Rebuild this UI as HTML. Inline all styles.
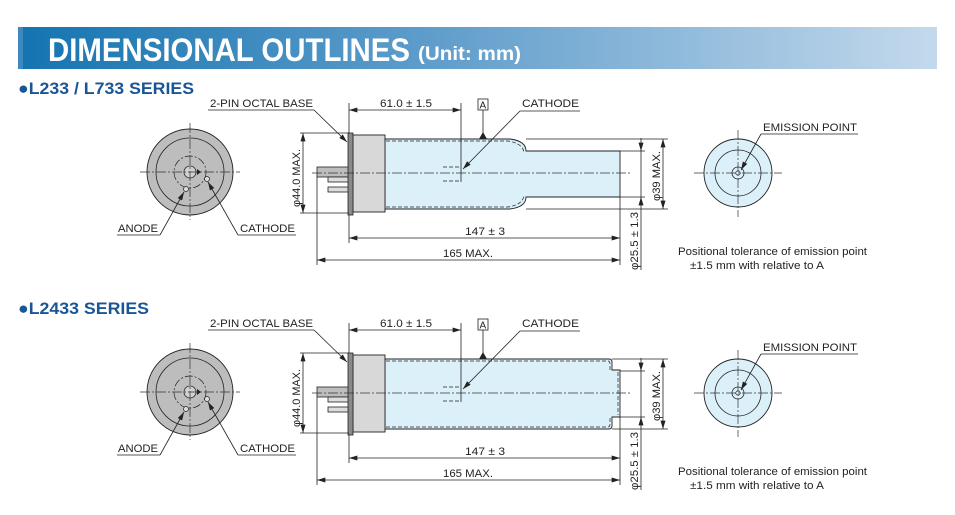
<!DOCTYPE html>
<html><head><meta charset="utf-8"><style>
html,body{margin:0;padding:0;background:#fff;}
svg{display:block;font-family:"Liberation Sans",Arial,sans-serif;}
.t{font-size:11px;fill:#222;}
.ln{stroke:#222;stroke-width:0.8;fill:none;}
.cl{stroke:#333;stroke-width:0.7;fill:none;stroke-dasharray:10 2 2 2;}
</style></head><body>
<svg width="955" height="515" viewBox="0 0 955 515" xmlns="http://www.w3.org/2000/svg">
<defs>
<linearGradient id="hg" x1="0" x2="1" y1="0" y2="0">
<stop offset="0" stop-color="#1474b0"/><stop offset="0.45" stop-color="#5f9dcb"/><stop offset="1" stop-color="#c4d9ec"/>
</linearGradient>
<marker id="ar" viewBox="0 0 10 6" refX="10" refY="3" markerWidth="9" markerHeight="5" orient="auto-start-reverse" markerUnits="userSpaceOnUse">
<path d="M0,0 L10,3 L0,6 z" fill="#222"/></marker>
</defs>
<rect x="18" y="27" width="919" height="42" fill="url(#hg)"/>
<rect x="18" y="27" width="5" height="42" fill="#3d88bf"/>
<text x="48" y="61" font-size="32" font-weight="bold" fill="#fff" textLength="362" lengthAdjust="spacingAndGlyphs">DIMENSIONAL OUTLINES</text>
<text x="418" y="60" font-size="19" font-weight="bold" fill="#fff" textLength="103" lengthAdjust="spacingAndGlyphs">(Unit: mm)</text>

<!-- SECTION 1 -->
<g>
<text x="18" y="94" font-size="17" font-weight="bold" fill="#1a5596" textLength="176" lengthAdjust="spacingAndGlyphs">●L233 / L733 SERIES</text>
<!-- end view left -->
<circle cx="190" cy="172" r="43" fill="#bdbdbd" stroke="#222" stroke-width="0.9"/>
<circle cx="190" cy="172" r="34" fill="none" stroke="#222" stroke-width="0.8"/>
<circle cx="190" cy="172" r="16" fill="none" stroke="#222" stroke-width="0.7" stroke-dasharray="8 2 2 2"/>
<circle cx="190" cy="172" r="6" fill="#d0d0d0" stroke="#222" stroke-width="0.8"/>
<line x1="140" y1="172" x2="240" y2="172" class="cl"/>
<line x1="190" y1="123" x2="190" y2="220" class="cl"/>
<path d="M197,169 L201,172 L197,175z" fill="#222"/>
<circle cx="186" cy="189" r="2.5" fill="#ddd" stroke="#222" stroke-width="0.7"/>
<circle cx="207" cy="179" r="2.5" fill="#ddd" stroke="#222" stroke-width="0.7"/>
<text x="118" y="232" class="t" textLength="40" lengthAdjust="spacingAndGlyphs">ANODE</text>
<line x1="117" y1="235" x2="160" y2="235" class="ln"/>
<line x1="160" y1="235" x2="184" y2="192" class="ln" marker-end="url(#ar)"/>
<text x="240" y="232" class="t" textLength="55" lengthAdjust="spacingAndGlyphs">CATHODE</text>
<line x1="238" y1="235" x2="296" y2="235" class="ln"/>
<line x1="238" y1="235" x2="208" y2="182" class="ln" marker-end="url(#ar)"/>
<!-- side view -->
<rect x="317" y="167" width="32" height="10" fill="#bdbdbd" stroke="#222" stroke-width="0.8"/>
<rect x="328" y="177" width="21" height="5" fill="#ddd" stroke="#222" stroke-width="0.8"/>
<rect x="328" y="187" width="21" height="5" fill="#ddd" stroke="#222" stroke-width="0.8"/>
<path d="M385,139 L510,139 Q526,141 526,151 L620,151 L620,197 L526,197 Q526,207 510,209 L385,209 z" fill="#dcf0fa" stroke="#222" stroke-width="0.9"/>
<path d="M386,141 L508,141 Q522,143 524,152 M386,207 L508,207 Q522,205 524,196" fill="none" stroke="#222" stroke-width="0.7" stroke-dasharray="4 2"/>
<rect x="353" y="135" width="32" height="77" fill="#d8d8d8" stroke="#222" stroke-width="0.9"/>
<rect x="348" y="133" width="5" height="82" fill="#8a8a8a" stroke="#222" stroke-width="0.8"/>
<line x1="312" y1="173" x2="630" y2="173" class="cl"/>
<path d="M443,167 L461,167 M443,181 L461,181" stroke="#222" stroke-width="0.8" stroke-dasharray="4 2"/>
<line x1="461" y1="103" x2="461" y2="182" class="ln"/>
<line x1="349" y1="103" x2="349" y2="133" class="ln"/>
<line x1="349" y1="110" x2="461" y2="110" class="ln" marker-start="url(#ar)" marker-end="url(#ar)"/>
<text x="380" y="107" class="t" textLength="52" lengthAdjust="spacingAndGlyphs">61.0 ± 1.5</text>
<rect x="478" y="99" width="10" height="11" fill="#fff" stroke="#222" stroke-width="0.8"/>
<text x="479.5" y="108.5" font-size="10" fill="#222">A</text>
<line x1="483" y1="110" x2="483" y2="135" class="ln"/>
<path d="M479,139 L483,132 L487,139z" fill="#222"/>
<text x="522" y="107" class="t" textLength="57" lengthAdjust="spacingAndGlyphs">CATHODE</text>
<line x1="520" y1="111" x2="580" y2="111" class="ln"/>
<line x1="520" y1="111" x2="463" y2="169" class="ln" marker-end="url(#ar)"/>
<text x="210" y="107" class="t" textLength="103" lengthAdjust="spacingAndGlyphs">2-PIN OCTAL BASE</text>
<line x1="208" y1="110" x2="314" y2="110" class="ln"/>
<line x1="314" y1="110" x2="347" y2="142" class="ln" marker-end="url(#ar)"/>
<line x1="300" y1="133" x2="349" y2="133" class="ln"/>
<line x1="300" y1="213" x2="349" y2="213" class="ln"/>
<line x1="303" y1="133" x2="303" y2="213" class="ln" marker-start="url(#ar)" marker-end="url(#ar)"/>
<text transform="translate(300,207) rotate(-90)" class="t" textLength="58" lengthAdjust="spacingAndGlyphs">φ44.0 MAX.</text>
<line x1="526" y1="139" x2="668" y2="139" class="ln"/>
<line x1="526" y1="209" x2="668" y2="209" class="ln"/>
<line x1="663" y1="139" x2="663" y2="209" class="ln" marker-start="url(#ar)" marker-end="url(#ar)"/>
<text transform="translate(660,201) rotate(-90)" class="t" textLength="50" lengthAdjust="spacingAndGlyphs">φ39 MAX.</text>
<line x1="620" y1="151" x2="645" y2="151" class="ln"/>
<line x1="620" y1="197" x2="645" y2="197" class="ln"/>
<line x1="641" y1="138" x2="641" y2="151" class="ln" marker-end="url(#ar)"/>
<line x1="641" y1="151" x2="641" y2="197" class="ln"/>
<line x1="641" y1="270" x2="641" y2="197" class="ln" marker-end="url(#ar)"/>
<text transform="translate(638,270) rotate(-90)" class="t" textLength="58" lengthAdjust="spacingAndGlyphs">φ25.5 ± 1.3</text>
<line x1="620" y1="197" x2="620" y2="265" class="ln"/>
<line x1="317" y1="177" x2="317" y2="265" class="ln"/>
<line x1="349" y1="215" x2="349" y2="243" class="ln"/>
<line x1="349" y1="238" x2="620" y2="238" class="ln" marker-start="url(#ar)" marker-end="url(#ar)"/>
<text x="465" y="235" class="t" textLength="40" lengthAdjust="spacingAndGlyphs">147 ± 3</text>
<line x1="317" y1="260" x2="620" y2="260" class="ln" marker-start="url(#ar)" marker-end="url(#ar)"/>
<text x="443" y="257" class="t" textLength="50" lengthAdjust="spacingAndGlyphs">165 MAX.</text>
<!-- end view right -->
<circle cx="738" cy="173" r="34" fill="#dcf0fa" stroke="#222" stroke-width="0.9"/>
<circle cx="738" cy="173" r="23" fill="none" stroke="#222" stroke-width="0.8"/>
<circle cx="738" cy="173" r="6" fill="none" stroke="#222" stroke-width="0.8"/>
<circle cx="738" cy="173" r="2.2" fill="none" stroke="#222" stroke-width="0.7"/>
<line x1="694" y1="173" x2="782" y2="173" class="cl"/>
<line x1="738" y1="130" x2="738" y2="217" class="cl"/>
<text x="763" y="131" class="t" textLength="94" lengthAdjust="spacingAndGlyphs">EMISSION POINT</text>
<line x1="761" y1="134" x2="858" y2="134" class="ln"/>
<line x1="761" y1="134" x2="741" y2="170" class="ln" marker-end="url(#ar)"/>
<text x="678" y="255" class="t" textLength="189" lengthAdjust="spacingAndGlyphs">Positional tolerance of emission point</text>
<text x="690" y="269" class="t" textLength="134" lengthAdjust="spacingAndGlyphs">±1.5 mm with relative to A</text>
</g>

<!-- SECTION 2 -->
<g transform="translate(0,220)">
<text x="18" y="94" font-size="17" font-weight="bold" fill="#1a5596" textLength="131" lengthAdjust="spacingAndGlyphs">●L2433 SERIES</text>
<circle cx="190" cy="172" r="43" fill="#bdbdbd" stroke="#222" stroke-width="0.9"/>
<circle cx="190" cy="172" r="34" fill="none" stroke="#222" stroke-width="0.8"/>
<circle cx="190" cy="172" r="16" fill="none" stroke="#222" stroke-width="0.7" stroke-dasharray="8 2 2 2"/>
<circle cx="190" cy="172" r="6" fill="#d0d0d0" stroke="#222" stroke-width="0.8"/>
<line x1="140" y1="172" x2="240" y2="172" class="cl"/>
<line x1="190" y1="123" x2="190" y2="220" class="cl"/>
<path d="M197,169 L201,172 L197,175z" fill="#222"/>
<circle cx="186" cy="189" r="2.5" fill="#ddd" stroke="#222" stroke-width="0.7"/>
<circle cx="207" cy="179" r="2.5" fill="#ddd" stroke="#222" stroke-width="0.7"/>
<text x="118" y="232" class="t" textLength="40" lengthAdjust="spacingAndGlyphs">ANODE</text>
<line x1="117" y1="235" x2="160" y2="235" class="ln"/>
<line x1="160" y1="235" x2="184" y2="192" class="ln" marker-end="url(#ar)"/>
<text x="240" y="232" class="t" textLength="55" lengthAdjust="spacingAndGlyphs">CATHODE</text>
<line x1="238" y1="235" x2="296" y2="235" class="ln"/>
<line x1="238" y1="235" x2="208" y2="182" class="ln" marker-end="url(#ar)"/>
<rect x="317" y="167" width="32" height="10" fill="#bdbdbd" stroke="#222" stroke-width="0.8"/>
<rect x="328" y="177" width="21" height="5" fill="#ddd" stroke="#222" stroke-width="0.8"/>
<rect x="328" y="187" width="21" height="5" fill="#ddd" stroke="#222" stroke-width="0.8"/>
<path d="M385,139 L609,139 Q612,139 612,142 L612,150 L620,150 L620,197 L612,197 L612,206 Q612,209 609,209 L385,209 z" fill="#dcf0fa" stroke="#222" stroke-width="0.9"/>
<path d="M386,141 L608,141 Q610,141 610,144 L610,150 M386,207 L608,207 Q610,207 610,204 L610,197 M618,152 L618,195" fill="none" stroke="#222" stroke-width="0.7" stroke-dasharray="4 2"/>
<rect x="353" y="135" width="32" height="77" fill="#d8d8d8" stroke="#222" stroke-width="0.9"/>
<rect x="348" y="133" width="5" height="82" fill="#8a8a8a" stroke="#222" stroke-width="0.8"/>
<line x1="312" y1="173" x2="630" y2="173" class="cl"/>
<path d="M443,167 L461,167 M443,181 L461,181" stroke="#222" stroke-width="0.8" stroke-dasharray="4 2"/>
<line x1="461" y1="103" x2="461" y2="182" class="ln"/>
<line x1="349" y1="103" x2="349" y2="133" class="ln"/>
<line x1="349" y1="110" x2="461" y2="110" class="ln" marker-start="url(#ar)" marker-end="url(#ar)"/>
<text x="380" y="107" class="t" textLength="52" lengthAdjust="spacingAndGlyphs">61.0 ± 1.5</text>
<rect x="478" y="99" width="10" height="11" fill="#fff" stroke="#222" stroke-width="0.8"/>
<text x="479.5" y="108.5" font-size="10" fill="#222">A</text>
<line x1="483" y1="110" x2="483" y2="135" class="ln"/>
<path d="M479,139 L483,132 L487,139z" fill="#222"/>
<text x="522" y="107" class="t" textLength="57" lengthAdjust="spacingAndGlyphs">CATHODE</text>
<line x1="520" y1="111" x2="580" y2="111" class="ln"/>
<line x1="520" y1="111" x2="463" y2="169" class="ln" marker-end="url(#ar)"/>
<text x="210" y="107" class="t" textLength="103" lengthAdjust="spacingAndGlyphs">2-PIN OCTAL BASE</text>
<line x1="208" y1="110" x2="314" y2="110" class="ln"/>
<line x1="314" y1="110" x2="347" y2="142" class="ln" marker-end="url(#ar)"/>
<line x1="300" y1="133" x2="349" y2="133" class="ln"/>
<line x1="300" y1="213" x2="349" y2="213" class="ln"/>
<line x1="303" y1="133" x2="303" y2="213" class="ln" marker-start="url(#ar)" marker-end="url(#ar)"/>
<text transform="translate(300,207) rotate(-90)" class="t" textLength="58" lengthAdjust="spacingAndGlyphs">φ44.0 MAX.</text>
<line x1="612" y1="139" x2="668" y2="139" class="ln"/>
<line x1="612" y1="209" x2="668" y2="209" class="ln"/>
<line x1="663" y1="139" x2="663" y2="209" class="ln" marker-start="url(#ar)" marker-end="url(#ar)"/>
<text transform="translate(660,201) rotate(-90)" class="t" textLength="50" lengthAdjust="spacingAndGlyphs">φ39 MAX.</text>
<line x1="620" y1="151" x2="645" y2="151" class="ln"/>
<line x1="620" y1="197" x2="645" y2="197" class="ln"/>
<line x1="641" y1="138" x2="641" y2="151" class="ln" marker-end="url(#ar)"/>
<line x1="641" y1="151" x2="641" y2="197" class="ln"/>
<line x1="641" y1="270" x2="641" y2="197" class="ln" marker-end="url(#ar)"/>
<text transform="translate(638,270) rotate(-90)" class="t" textLength="58" lengthAdjust="spacingAndGlyphs">φ25.5 ± 1.3</text>
<line x1="620" y1="197" x2="620" y2="265" class="ln"/>
<line x1="317" y1="177" x2="317" y2="265" class="ln"/>
<line x1="349" y1="215" x2="349" y2="243" class="ln"/>
<line x1="349" y1="238" x2="620" y2="238" class="ln" marker-start="url(#ar)" marker-end="url(#ar)"/>
<text x="465" y="235" class="t" textLength="40" lengthAdjust="spacingAndGlyphs">147 ± 3</text>
<line x1="317" y1="260" x2="620" y2="260" class="ln" marker-start="url(#ar)" marker-end="url(#ar)"/>
<text x="443" y="257" class="t" textLength="50" lengthAdjust="spacingAndGlyphs">165 MAX.</text>
<circle cx="738" cy="173" r="34" fill="#dcf0fa" stroke="#222" stroke-width="0.9"/>
<circle cx="738" cy="173" r="23" fill="none" stroke="#222" stroke-width="0.8"/>
<circle cx="738" cy="173" r="6" fill="none" stroke="#222" stroke-width="0.8"/>
<circle cx="738" cy="173" r="2.2" fill="none" stroke="#222" stroke-width="0.7"/>
<line x1="694" y1="173" x2="782" y2="173" class="cl"/>
<line x1="738" y1="130" x2="738" y2="217" class="cl"/>
<text x="763" y="131" class="t" textLength="94" lengthAdjust="spacingAndGlyphs">EMISSION POINT</text>
<line x1="761" y1="134" x2="858" y2="134" class="ln"/>
<line x1="761" y1="134" x2="741" y2="170" class="ln" marker-end="url(#ar)"/>
<text x="678" y="255" class="t" textLength="189" lengthAdjust="spacingAndGlyphs">Positional tolerance of emission point</text>
<text x="690" y="269" class="t" textLength="134" lengthAdjust="spacingAndGlyphs">±1.5 mm with relative to A</text>
</g>
</svg>
</body></html>
